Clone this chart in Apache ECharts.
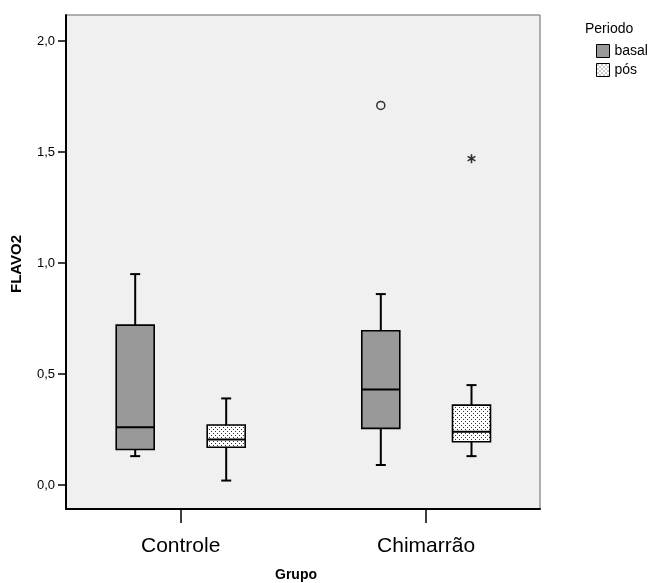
<!DOCTYPE html>
<html><head><meta charset="utf-8">
<script src="https://cdn.jsdelivr.net/npm/echarts@6/dist/echarts.min.js"></script>
<style>html,body{margin:0;padding:0;background:#fff}#c{width:656px;height:583px}</style>
</head><body><div id="c"></div>
<script>
const categories = ['Controle', 'Chimarrão'];
const periods = ['basal', 'pós'];
// [min, Q1, median, Q3, max] per category
const basalStats = [[0.13, 0.16, 0.26, 0.72, 0.95], [0.09, 0.255, 0.43, 0.695, 0.86]];
const posStats = [[0.02, 0.17, 0.205, 0.27, 0.39], [0.13, 0.195, 0.24, 0.36, 0.45]];
const basalOutliers = [['Chimarrão', 1.71]];
const posExtremes = [['Chimarrão', 1.47]];
const yTickLabels = ['0,0', '0,5', '1,0', '1,5', '2,0'];

const FONT = '"Liberation Sans", Arial, sans-serif';

function makeDots() {
  const c = document.createElement('canvas');
  c.width = 4; c.height = 4;
  const g = c.getContext('2d');
  g.fillStyle = '#fff'; g.fillRect(0, 0, 4, 4);
  g.fillStyle = '#333';
  g.fillRect(1, 1, 1, 1); g.fillRect(3, 3, 1, 1);
  return c;
}
const dotPattern = { image: makeDots(), repeat: 'repeat' };
const basalFill = '#999999';

function boxRenderer(fill) {
  return function (params, api) {
    const x = api.value(0);
    const p = [1, 2, 3, 4, 5].map(i => api.coord([x, api.value(i)]));
    const cx = p[0][0];
    const hw = 19, cap = 5;
    const line = (x1, y1, x2, y2) => ({ type: 'line', shape: { x1, y1, x2, y2 }, style: { stroke: '#000', lineWidth: 2 } });
    return {
      type: 'group', children: [
        line(cx, p[4][1], cx, p[3][1]),
        line(cx, p[1][1], cx, p[0][1]),
        line(cx - cap, p[4][1], cx + cap, p[4][1]),
        line(cx - cap, p[0][1], cx + cap, p[0][1]),
        { type: 'rect', shape: { x: cx - hw, y: p[3][1], width: 2 * hw, height: p[1][1] - p[3][1] }, style: { fill: fill, stroke: '#000', lineWidth: 1.6 } },
        line(cx - hw, p[2][1], cx + hw, p[2][1])
      ]
    };
  };
}

const hiddenCat = (gi) => ({ type: 'category', gridIndex: gi, data: categories, boundaryGap: false, show: false });
const hiddenVal = (gi) => ({ type: 'value', gridIndex: gi, min: 0, max: 2, show: false, splitLine: { show: false } });

const chart = echarts.init(document.getElementById('c'));
chart.setOption({
  animation: false,
  backgroundColor: '#fff',
  textStyle: { fontFamily: FONT },
  title: { text: 'Periodo', left: 585, top: 22, padding: 0, textStyle: { fontFamily: FONT, fontSize: 14, fontWeight: 'normal', color: '#000' } },
  legend: {
    orient: 'vertical', left: 596, top: 44, itemWidth: 13, itemHeight: 13, itemGap: 5, padding: 0,
    icon: 'rect', selectedMode: false,
    textStyle: { fontFamily: FONT, fontSize: 14, color: '#000' },
    data: [
      { name: periods[0], itemStyle: { color: basalFill, borderColor: '#000', borderWidth: 1 } },
      { name: periods[1], itemStyle: { color: dotPattern, borderColor: '#000', borderWidth: 1 } }
    ]
  },
  graphic: [
    { type: 'text', x: 17, y: 264, rotation: Math.PI / 2, style: { text: 'FLAVO2', fontFamily: FONT, fontSize: 15, fontWeight: 'bold', fill: '#000', textAlign: 'center', textVerticalAlign: 'middle' } },
    { type: 'text', x: 296, y: 575, style: { text: 'Grupo', fontFamily: FONT, fontSize: 14, fontWeight: 'bold', fill: '#000', textAlign: 'center', textVerticalAlign: 'middle' } }
  ],
  grid: [
    { left: 66, top: 15, width: 474, height: 494, show: true, backgroundColor: '#f0f0f0', borderColor: '#666', borderWidth: 1, outerBoundsMode: 'none' },
    { left: 180.7, top: 15, width: 245.4, height: 494, outerBoundsMode: 'none' },
    { left: 66, top: 41, width: 474, height: 444, outerBoundsMode: 'none' },
    { left: 135.2, top: 41, width: 245.6, height: 444, outerBoundsMode: 'none' },
    { left: 226.2, top: 41, width: 245.3, height: 444, outerBoundsMode: 'none' }
  ],
  xAxis: [
    { type: 'value', gridIndex: 0, min: 0, max: 1, axisLine: { show: true, onZero: false, lineStyle: { color: '#000', width: 2 } }, axisTick: { show: false }, axisLabel: { show: false }, splitLine: { show: false } },
    { type: 'category', gridIndex: 1, data: categories, boundaryGap: false,
      axisLine: { show: false }, axisTick: { show: true, alignWithLabel: true, length: 14, lineStyle: { color: '#000', width: 1.5 } },
      axisLabel: { fontFamily: FONT, fontSize: 21, color: '#000', margin: 27 } },
    { type: 'value', gridIndex: 2, show: false },
    hiddenCat(3), hiddenCat(4)
  ],
  yAxis: [
    { type: 'value', gridIndex: 0, min: 0, max: 1, axisLine: { show: true, onZero: false, lineStyle: { color: '#000', width: 2 } }, axisTick: { show: false }, axisLabel: { show: false }, splitLine: { show: false } },
    { type: 'value', gridIndex: 1, show: false, splitLine: { show: false } },
    { type: 'value', gridIndex: 2, min: 0, max: 2, interval: 0.5,
      axisLine: { show: false }, axisTick: { show: true, length: 8, lineStyle: { color: '#000', width: 1.5 } },
      splitLine: { show: false },
      axisLabel: { fontFamily: FONT, fontSize: 13, color: '#000', margin: 11, formatter: (v, i) => yTickLabels[i] } },
    hiddenVal(3), hiddenVal(4)
  ],
  series: [
    { name: periods[0], type: 'custom', xAxisIndex: 3, yAxisIndex: 3, itemStyle: { color: basalFill },
      data: basalStats.map((s, i) => [i].concat(s)), encode: { x: 0, y: [1, 2, 3, 4, 5] }, renderItem: boxRenderer(basalFill) },
    { name: periods[1], type: 'custom', xAxisIndex: 4, yAxisIndex: 4, itemStyle: { color: dotPattern },
      data: posStats.map((s, i) => [i].concat(s)), encode: { x: 0, y: [1, 2, 3, 4, 5] }, renderItem: boxRenderer(dotPattern) },
    { name: periods[0], type: 'scatter', xAxisIndex: 3, yAxisIndex: 3, symbol: 'circle', symbolSize: 8,
      itemStyle: { color: 'transparent', borderColor: '#000', borderWidth: 1.5 }, data: basalOutliers },
    { name: periods[1], type: 'scatter', xAxisIndex: 4, yAxisIndex: 4,
      symbol: 'path://M5,0L5,10M0.67,2.5L9.33,7.5M0.67,7.5L9.33,2.5', symbolSize: 9, symbolKeepAspect: true,
      itemStyle: { color: 'transparent', borderColor: '#000', borderWidth: 1.6 }, data: posExtremes }
  ]
});
</script></body></html>
